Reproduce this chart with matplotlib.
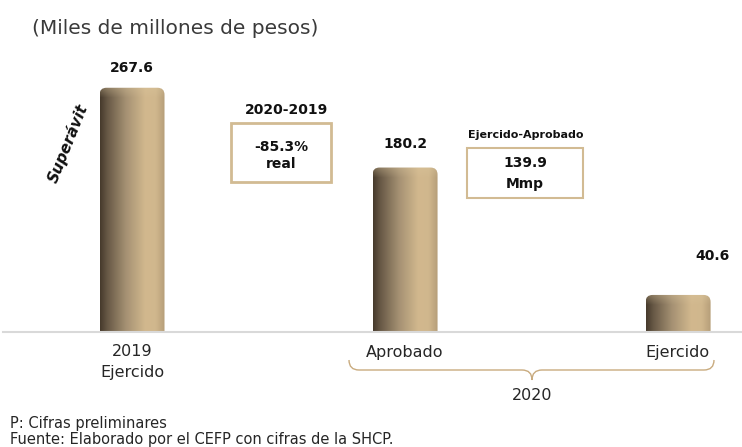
import numpy as np
import matplotlib
matplotlib.use("Agg")
import matplotlib.pyplot as plt
from matplotlib.patches import FancyBboxPatch, Rectangle, PathPatch
from matplotlib.path import Path

# Datos (miles de millones de pesos)
categorias = ["2019\nEjercido", "Aprobado", "Ejercido"]
valores = [267.6, 180.2, 40.6]
etiquetas = ["267.6", "180.2", "40.6"]
grupo_2020 = "2020"

W, H = 742, 447
fig = plt.figure(figsize=(W / 100, H / 100), dpi=100)
plt.rcParams['font.family'] = ['DejaVu Sans']


def px(x, y):
    # pixeles de la imagen -> fraccion de figura
    return (x / W, 1 - y / H)


ax = fig.add_axes([3 / W, (H - 332) / H, (W - 3) / W, 272 / H])
xlim = (-0.4725, 2.234)
ylim = (0, 298)
ax.set_xlim(*xlim)
ax.set_ylim(*ylim)
for s in ["top", "right", "left"]:
    ax.spines[s].set_visible(False)
ax.spines["bottom"].set_color("#d9d9d9")
ax.spines["bottom"].set_linewidth(1.5)
ax.set_xticks([])
ax.set_yticks([])

x = np.arange(len(valores))
ancho = 0.238
barras = ax.bar(x, valores, width=ancho, color="none", edgecolor="none")

# escala pixel/unidad
p0 = ax.transData.transform((0, 0))
p1 = ax.transData.transform((1, 1))
ppx, ppy = p1[0] - p0[0], p1[1] - p0[1]
radio = 7
rx, ry = radio / ppx, radio / ppy

# gradiente horizontal del cilindro
pos = [0.0, 0.12, 0.4, 0.7, 0.86, 1.0]
cols = np.array([[70, 58, 44], [105, 90, 71], [165, 145, 115],
                 [210, 184, 142], [208, 183, 141], [182, 158, 121]]) / 255.0
ncol = 200
xs = np.linspace(0, 1, ncol)
base = np.stack([np.interp(xs, pos, cols[:, i]) for i in range(3)], axis=1)

for b in barras:
    x0, w, h = b.get_x(), b.get_width(), b.get_height()
    caja = FancyBboxPatch((x0, -ry), w, h + ry,
                          boxstyle=f"round,pad=0,rounding_size={rx}",
                          mutation_aspect=ry / rx,
                          facecolor="none", edgecolor="none")
    ax.add_patch(caja)
    hpx = int(h * ppy)
    filas = np.arange(hpx)
    # brillo en la parte superior
    luz = np.clip(1 - filas / 10.0, 0, 1)[:, None, None] * 0.35
    img = base[None, :, :] * (1 - luz) + np.array([0.86, 0.78, 0.62]) * luz
    im = ax.imshow(img, extent=(x0, x0 + w, 0, h), aspect="auto",
                   origin="upper", interpolation="bilinear", zorder=2)
    im.set_clip_path(caja)

ax.set_xlim(*xlim)
ax.set_ylim(*ylim)

# etiquetas de valor
desp = [(0, 9), (0, 12), (25, 23)]
for xi, v, t, d in zip(x, valores, etiquetas, desp):
    ax.annotate(t, (xi, v), xytext=d, textcoords="offset points",
                ha="center", va="bottom", fontsize=10, fontweight="bold",
                color="#111111")

# titulo
fig.text(*px(32, 28), "(Miles de millones de pesos)", fontsize=14.5,
         color="#3a3a3a", ha="left", va="center")

# categorias
cat_fs = 11.5
fig.text(*px(132, 352), "2019", fontsize=cat_fs, color="#262626", ha="center", va="center")
fig.text(*px(132, 372), "Ejercido", fontsize=cat_fs, color="#262626", ha="center", va="center")
fig.text(*px(405, 352), categorias[1], fontsize=cat_fs, color="#262626", ha="center", va="center")
fig.text(*px(677, 352), categorias[2], fontsize=cat_fs, color="#262626", ha="center", va="center")
fig.text(*px(532, 395), grupo_2020, fontsize=cat_fs, color="#262626", ha="center", va="center")

# llave 2020
verts = [(349, 360), (349, 370), (359, 370), (522, 370), (532, 370), (532, 380),
         (532, 370), (542, 370), (704, 370), (714, 370), (714, 360)]
codes = [Path.MOVETO, Path.CURVE3, Path.CURVE3, Path.LINETO, Path.CURVE3, Path.CURVE3,
         Path.CURVE3, Path.CURVE3, Path.LINETO, Path.CURVE3, Path.CURVE3]
llave = Path([px(*v) for v in verts], codes)
fig.add_artist(PathPatch(llave, transform=fig.transFigure, facecolor="none",
                         edgecolor="#c9ab7f", lw=1))

# Superavit
fig.text(*px(68, 143), "Superávit", fontsize=11, fontweight="bold", fontstyle="italic",
         rotation=68, ha="center", va="center", color="#111111")

# cuadros de variacion
borde = "#d2bb93"
fig.text(*px(286, 110), "2020-2019", fontsize=10, fontweight="bold", ha="center",
         va="center", color="#111111")
fig.add_artist(Rectangle(px(231, 182), 100 / W, 59 / H, transform=fig.transFigure,
                         facecolor="white", edgecolor=borde, lw=2))
fig.text(*px(281, 147), "-85.3%", fontsize=10, fontweight="bold", ha="center",
         va="center", color="#111111")
fig.text(*px(281, 164), "real", fontsize=10, fontweight="bold", ha="center",
         va="center", color="#111111")

fig.text(*px(526, 135), "Ejercido-Aprobado", fontsize=8, fontweight="bold", ha="center",
         va="center", color="#111111")
fig.add_artist(Rectangle(px(467, 198), 116 / W, 50 / H, transform=fig.transFigure,
                         facecolor="white", edgecolor=borde, lw=1.5))
fig.text(*px(525, 163), "139.9", fontsize=10, fontweight="bold", ha="center",
         va="center", color="#111111")
fig.text(*px(525, 184), "Mmp", fontsize=10, fontweight="bold", ha="center",
         va="center", color="#111111")

# notas
fig.text(*px(10, 428), "P: Cifras preliminares", fontsize=10.5, color="#262626",
         ha="left", va="baseline")
fig.text(*px(10, 444), "Fuente: Elaborado por el CEFP con cifras de la SHCP.", fontsize=10.5,
         color="#262626", ha="left", va="baseline")

fig.savefig("out.png", dpi=100)
